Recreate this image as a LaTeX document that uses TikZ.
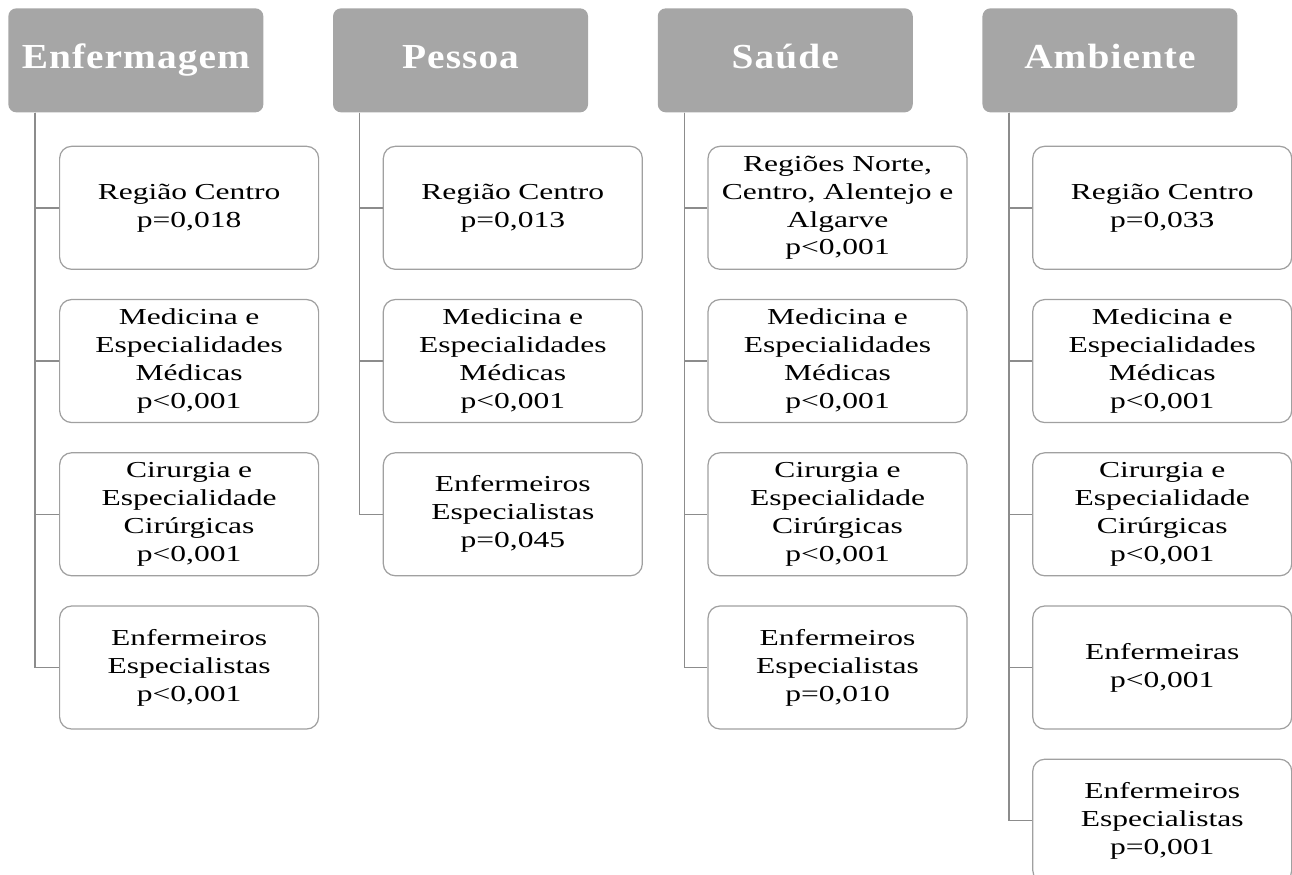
\documentclass[tikz,border=0pt]{standalone}
\usepackage{fontspec}
\setmainfont{Liberation Serif}
\usetikzlibrary{positioning}
\definecolor{headgray}{HTML}{A6A6A6}
\definecolor{edgegray}{HTML}{A0A0A0}
\definecolor{linkgray}{HTML}{8C8C8C}

\begin{document}
\begin{tikzpicture}[
  head/.style={fill=headgray, draw=none, rounded corners=1.6mm, minimum width=5.1cm, minimum height=2.08cm, text height=2.1ex, text depth=0ex, align=center, text=white, font=\fontsize{20}{23}\selectfont\bfseries\addfontfeature{FakeStretch=1.12, LetterSpace=3}},
  item/.style={draw=edgegray, line width=0.7pt, rounded corners=2.4mm, fill=white, minimum width=5.18cm, minimum height=2.46cm, text width=5.0cm, inner sep=1pt, align=center, font=\fontsize{13}{15.9}\selectfont\addfontfeature{FakeStretch=1.38}},
  link/.style={draw=linkgray, line width=0.8pt}
]
\useasboundingbox (0,0) rectangle (25.84,-17.5);
% headers
\node[head, anchor=north west] (enf) at (0.16,-0.16) {Enfermagem};
\node[head, right=1.38cm of enf] (pes) {Pessoa};
\node[head, right=1.38cm of pes] (sau) {Saúde};
\node[head, right=1.38cm of sau] (amb) {Ambiente};
% Enfermagem
\node[item, below=0.66cm of enf.south west, anchor=north west, xshift=1.02cm] (enf1) {Região Centro\\p=0,018};
\node[item, below=0.58cm of enf1] (enf2) {Medicina e\\Especialidades\\Médicas\\p<0,001};
\node[item, below=0.58cm of enf2] (enf3) {Cirurgia e\\Especialidade\\Cirúrgicas\\p<0,001};
\node[item, below=0.58cm of enf3] (enf4) {Enfermeiros\\Especialistas\\p<0,001};
% Pessoa
\node[item, below=0.66cm of pes.south west, anchor=north west, xshift=1.0cm] (pes1) {Região Centro\\p=0,013};
\node[item, below=0.58cm of pes1] (pes2) {Medicina e\\Especialidades\\Médicas\\p<0,001};
\node[item, below=0.58cm of pes2] (pes3) {Enfermeiros\\Especialistas\\p=0,045};
% Saude
\node[item, below=0.66cm of sau.south west, anchor=north west, xshift=1.0cm] (sau1) {Regiões Norte,\\Centro, Alentejo e\\Algarve\\p<0,001};
\node[item, below=0.58cm of sau1] (sau2) {Medicina e\\Especialidades\\Médicas\\p<0,001};
\node[item, below=0.58cm of sau2] (sau3) {Cirurgia e\\Especialidade\\Cirúrgicas\\p<0,001};
\node[item, below=0.58cm of sau3] (sau4) {Enfermeiros\\Especialistas\\p=0,010};
% Ambiente
\node[item, below=0.66cm of amb.south west, anchor=north west, xshift=1.0cm] (amb1) {Região Centro\\p=0,033};
\node[item, below=0.58cm of amb1] (amb2) {Medicina e\\Especialidades\\Médicas\\p<0,001};
\node[item, below=0.58cm of amb2] (amb3) {Cirurgia e\\Especialidade\\Cirúrgicas\\p<0,001};
\node[item, below=0.58cm of amb3] (amb4) {Enfermeiras\\p<0,001};
\node[item, below=0.58cm of amb4] (amb5) {Enfermeiros\\Especialistas\\p=0,001};
% trunks
\coordinate (enf-t) at ([xshift=0.54cm]enf.south west);
\coordinate (pes-t) at ([xshift=0.54cm]pes.south west);
\coordinate (sau-t) at ([xshift=0.54cm]sau.south west);
\coordinate (amb-t) at ([xshift=0.54cm]amb.south west);
\draw[link] (enf-t) |- (enf1.west);
\draw[link] (enf-t) |- (enf2.west);
\draw[link] (enf-t) |- (enf3.west);
\draw[link] (enf-t) |- (enf4.west);
\draw[link] (pes-t) |- (pes1.west);
\draw[link] (pes-t) |- (pes2.west);
\draw[link] (pes-t) |- (pes3.west);
\draw[link] (sau-t) |- (sau1.west);
\draw[link] (sau-t) |- (sau2.west);
\draw[link] (sau-t) |- (sau3.west);
\draw[link] (sau-t) |- (sau4.west);
\draw[link] (amb-t) |- (amb1.west);
\draw[link] (amb-t) |- (amb2.west);
\draw[link] (amb-t) |- (amb3.west);
\draw[link] (amb-t) |- (amb4.west);
\draw[link] (amb-t) |- (amb5.west);
\end{tikzpicture}
\end{document}
